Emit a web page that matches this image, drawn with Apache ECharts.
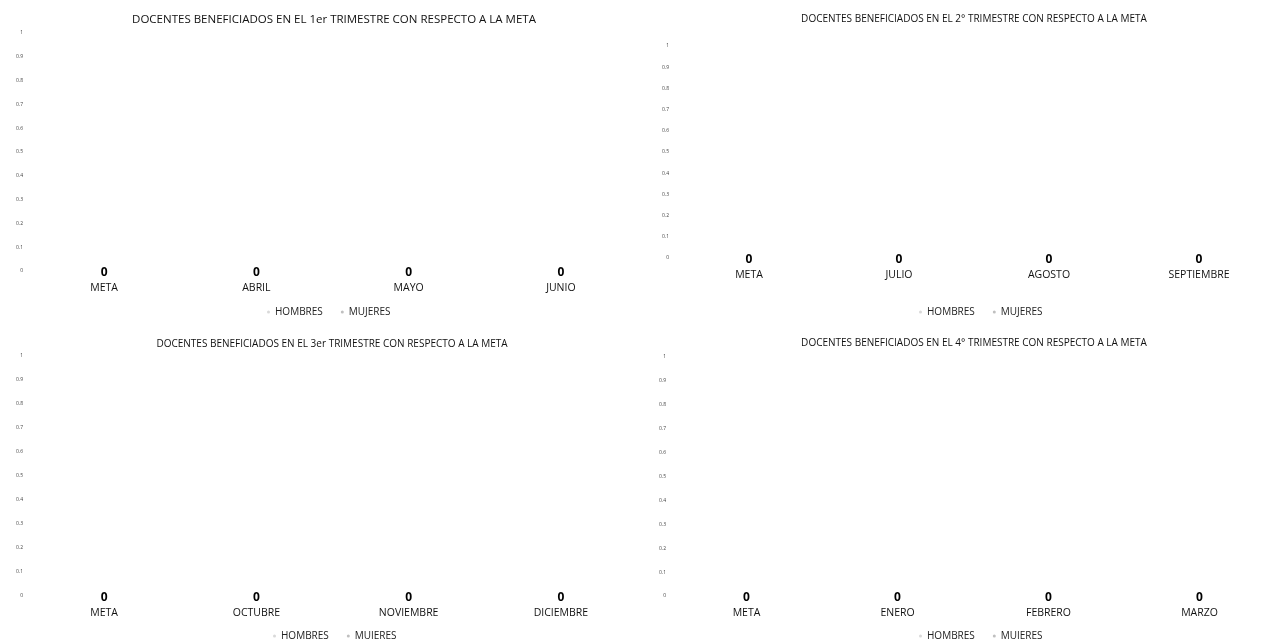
<!DOCTYPE html>
<html>
<head>
<meta charset="utf-8">
<script src="https://cdn.jsdelivr.net/npm/echarts@6/dist/echarts.min.js"></script>
<style>html,body{margin:0;padding:0;background:#fff}#c{width:1281px;height:639px}</style>
</head>
<body>
<div id="c"></div>
<script>
// ---- data ----
var titles = [
  'DOCENTES BENEFICIADOS EN EL 1er TRIMESTRE CON RESPECTO A LA META',
  'DOCENTES BENEFICIADOS EN EL 2° TRIMESTRE CON RESPECTO A LA META',
  'DOCENTES BENEFICIADOS EN EL 3er TRIMESTRE CON RESPECTO A LA META',
  'DOCENTES BENEFICIADOS EN EL 4° TRIMESTRE CON RESPECTO A LA META'
];
var cats1 = ['META', 'ABRIL', 'MAYO', 'JUNIO'];
var cats2 = ['META', 'JULIO', 'AGOSTO', 'SEPTIEMBRE'];
var cats3 = ['META', 'OCTUBRE', 'NOVIEMBRE', 'DICIEMBRE'];
var cats4 = ['META', 'ENERO', 'FEBRERO', 'MARZO'];
var hombres1 = [0, 0, 0, 0];
var mujeres1 = [0, 0, 0, 0];
var hombres2 = [0, 0, 0, 0];
var mujeres2 = [0, 0, 0, 0];
var hombres3 = [0, 0, 0, 0];
var mujeres3 = [0, 0, 0, 0];
var hombres4 = [0, 0, 0, 0];
var mujeres4 = [0, 0, 0, 0];
var seriesNames = ['HOMBRES', 'MUJERES'];
var yMin = 0, yMax = 1, yStep = 0.1;

// ---- layout ----
var FONT = 'Open Sans';
var panels = [
  {cats: cats1, h: hombres1, m: mujeres1, grid: {left: 28, top: 33, width: 609, height: 238}, title: {x: 329, y: 9, size: 11.5}, legend: {x: 262, y: 302}},
  {cats: cats2, h: hombres2, m: mujeres2, grid: {left: 674, top: 46, width: 600, height: 212}, title: {x: 969, y: 9, size: 10}, legend: {x: 914, y: 302}},
  {cats: cats3, h: hombres3, m: mujeres3, grid: {left: 28, top: 356, width: 609, height: 240}, title: {x: 327, y: 334, size: 10}, legend: {x: 268, y: 626}},
  {cats: cats4, h: hombres4, m: mujeres4, grid: {left: 671, top: 357, width: 604, height: 239}, title: {x: 969, y: 333, size: 10}, legend: {x: 914, y: 626}}
];

var option = {
  backgroundColor: '#ffffff',
  animation: false,
  color: ['#d9d9d9', '#bfbfbf'],
  title: [], legend: [], grid: [], xAxis: [], yAxis: [], series: []
};

panels.forEach(function (p, i) {
  option.title.push({
    text: titles[i], left: p.title.x, top: p.title.y, textAlign: 'center',
    textStyle: {fontFamily: FONT, fontSize: p.title.size, fontWeight: 'normal', color: '#111'}
  });
  option.legend.push({
    data: seriesNames, left: p.legend.x, top: p.legend.y, icon: 'circle',
    itemWidth: 3, itemHeight: 3, itemGap: 18,
    textStyle: {fontFamily: FONT, fontSize: 10, color: '#222'}
  });
  option.grid.push({left: p.grid.left, top: p.grid.top, width: p.grid.width, height: p.grid.height, containLabel: false});
  option.xAxis.push({
    type: 'category', gridIndex: i, data: p.cats,
    axisLine: {show: false}, axisTick: {show: false},
    axisLabel: {margin: 12, fontFamily: FONT, fontSize: 10.5, color: '#111'}
  });
  option.yAxis.push({
    type: 'value', gridIndex: i, min: yMin, max: yMax, interval: yStep,
    axisLine: {show: false}, axisTick: {show: false}, splitLine: {show: false},
    axisLabel: {margin: 5, fontFamily: FONT, fontSize: 5, color: '#444'}
  });
  option.series.push({
    name: seriesNames[0], type: 'bar', stack: 's' + i, xAxisIndex: i, yAxisIndex: i,
    data: p.h, barWidth: '40%',
    label: {show: false}
  });
  option.series.push({
    name: seriesNames[1], type: 'bar', stack: 's' + i, xAxisIndex: i, yAxisIndex: i,
    data: p.m, barWidth: '40%',
    label: {show: true, position: 'inside', offset: [0, 2], fontFamily: FONT, fontSize: 12, fontWeight: 'bold', color: '#000'}
  });
});

var chart = echarts.init(document.getElementById('c'), null, {renderer: 'canvas'});
chart.setOption(option);
</script>
</body>
</html>
